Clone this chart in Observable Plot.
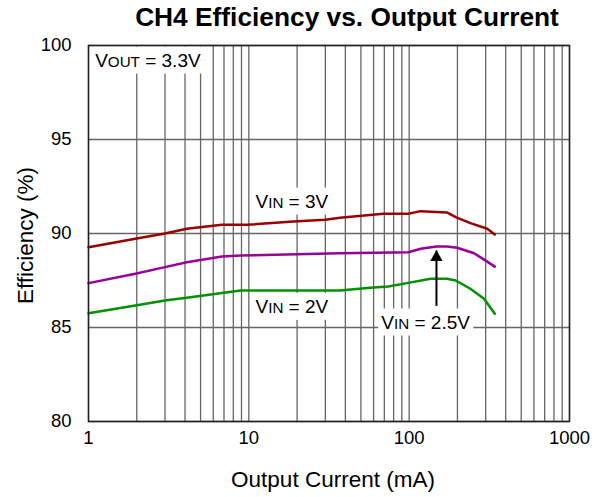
<!DOCTYPE html>
<html><head><meta charset="utf-8">
<script src="https://cdn.jsdelivr.net/npm/d3@7"></script>
<script src="https://cdn.jsdelivr.net/npm/@observablehq/plot@0.6"></script>
<style>
body{margin:0;background:#fff}
#chart svg{font-family:"Liberation Sans",Arial,sans-serif;background:#fff}
</style>
</head><body><div id="chart"></div>
<script>
// ---- data ----
const title = "CH4 Efficiency vs. Output Current";
const xLabel = "Output Current (mA)";
const yLabel = "Efficiency (%)";
const xTicks = [1, 10, 100, 1000];
const yTicks = [80, 85, 90, 95, 100];
const xGridMantissa = [1, 2, 3, 4, 5, 6, 7, 8, 9];
const xGridDecades = [1, 10, 100];

const seriesNames = ["VIN = 3V", "VIN = 2.5V", "VIN = 2V"];
const seriesColors = ["#990000", "#990099", "#009000"];

const vin3X = [1, 1.96, 3, 4.1, 6.8, 9.8, 19, 30, 37, 69, 99, 118, 172, 195, 241, 307, 342];
const vin3Y = [89.27, 89.72, 90.0, 90.25, 90.46, 90.46, 90.64, 90.73, 90.84, 91.05, 91.05, 91.19, 91.12, 90.87, 90.55, 90.25, 89.95];

const vin25X = [1, 1.96, 3, 4.1, 6.8, 8.9, 37, 99, 118, 148, 172, 199, 254, 300, 342];
const vin25Y = [87.36, 87.86, 88.21, 88.47, 88.78, 88.83, 88.95, 89.0, 89.19, 89.31, 89.31, 89.24, 88.95, 88.56, 88.24];

const vin2X = [1, 1.96, 3, 4.1, 6.8, 8.9, 37, 57, 74, 97, 136, 172, 195, 241, 293, 342];
const vin2Y = [85.76, 86.17, 86.44, 86.58, 86.83, 86.97, 86.97, 87.11, 87.18, 87.36, 87.59, 87.59, 87.5, 87.06, 86.53, 85.73];

// annotations: [text, x (mA), y (%)]
const annoText = ["VOUT = 3.3V", "VIN = 3V", "VIN = 2V", "VIN = 2.5V"];
const annoX = [1.1, 11, 11, 67];
const annoY = [99.2, 91.7, 86.1, 85.27];
const arrowX = [148];
const arrowFrom = [86.15];
const arrowTo = [89.1];

// ---- build tables ----
const rows = [];
[[vin3X, vin3Y], [vin25X, vin25Y], [vin2X, vin2Y]].forEach(([xs, ys], i) => {
  xs.forEach((x, j) => rows.push({series: seriesNames[i], x, y: ys[j]}));
});
const xGrid = xGridDecades.flatMap(d => xGridMantissa.map(m => m * d)).concat([1000]);
const annos = annoText.map((t, i) => ({t, x: annoX[i], y: annoY[i]}));
const arrows = arrowX.map((x, i) => ({x, y1: arrowFrom[i], y2: arrowTo[i]}));

const chart = Plot.plot({
  width: 604,
  height: 497,
  marginLeft: 88,
  marginRight: 35,
  marginTop: 45,
  marginBottom: 76,
  style: {fontSize: "18.5px", fontFamily: "'Liberation Sans', Arial, sans-serif", background: "#fff", color: "#000"},
  x: {type: "log", domain: [1, 1000], ticks: xTicks, tickFormat: d => String(d), tickSize: 0, tickPadding: 9, label: null},
  y: {domain: [80, 100], ticks: yTicks, tickFormat: d => String(d), tickSize: 0, tickPadding: 17, label: null},
  color: {domain: seriesNames, range: seriesColors},
  marks: [
    Plot.ruleX(xGrid, {stroke: "#666", strokeWidth: 1.3}),
    Plot.ruleY(yTicks, {stroke: "#666", strokeWidth: 1.3}),
    Plot.line(rows, {x: "x", y: "y", z: "series", stroke: "series", strokeWidth: 2.5}),
    Plot.text(annos, {x: "x", y: "y", text: "t", textAnchor: "start", fontSize: 19, fill: "#000"}),
    Plot.link(arrows, {x1: "x", x2: "x", y1: "y1", y2: "y2", stroke: "#000", strokeWidth: 2}),
    Plot.dot(arrows, {x: "x", y: "y2", symbol: "triangle", r: 4.6, fill: "#000", stroke: "none", dy: 7}),
    Plot.frame({stroke: "#222", strokeWidth: 1.5}),
    Plot.text([title], {frameAnchor: "top", textAnchor: "middle", lineAnchor: "middle", dy: -28, dx: 18, text: d => d, fontWeight: "bold", fontSize: 26.3, fill: "#000"}),
    Plot.text([xLabel], {frameAnchor: "bottom", textAnchor: "middle", lineAnchor: "middle", dy: 58, dx: 4, text: d => d, fontSize: 22.5, fill: "#000"}),
    Plot.text([yLabel], {frameAnchor: "left", textAnchor: "middle", lineAnchor: "middle", dx: -63, dy: 2, text: d => d, rotate: -90, fontSize: 22.5, fill: "#000"})
  ]
});
document.getElementById("chart").append(chart);

// subscripts + white boxes behind the annotation labels
d3.select(chart).selectAll("text").each(function() {
  const t = this.textContent;
  const m = /^V(OUT|IN)(.*)$/.exec(t);
  if (!m) return;
  const sel = d3.select(this);
  sel.text(null);
  sel.append("tspan").text("V");
  sel.append("tspan").attr("font-size", "0.8em").text(m[1]);
  sel.append("tspan").text(m[2]);
  const b = this.getBBox();
  const pad = 3;
  const rect = document.createElementNS("http://www.w3.org/2000/svg", "rect");
  rect.setAttribute("x", b.x - pad);
  rect.setAttribute("y", b.y - pad);
  rect.setAttribute("width", b.width + 2 * pad);
  rect.setAttribute("height", b.height + 2 * pad);
  rect.setAttribute("fill", "#fff");
  if (this.getAttribute("transform")) rect.setAttribute("transform", this.getAttribute("transform"));
  this.parentNode.insertBefore(rect, this);
});
</script>
</body></html>
